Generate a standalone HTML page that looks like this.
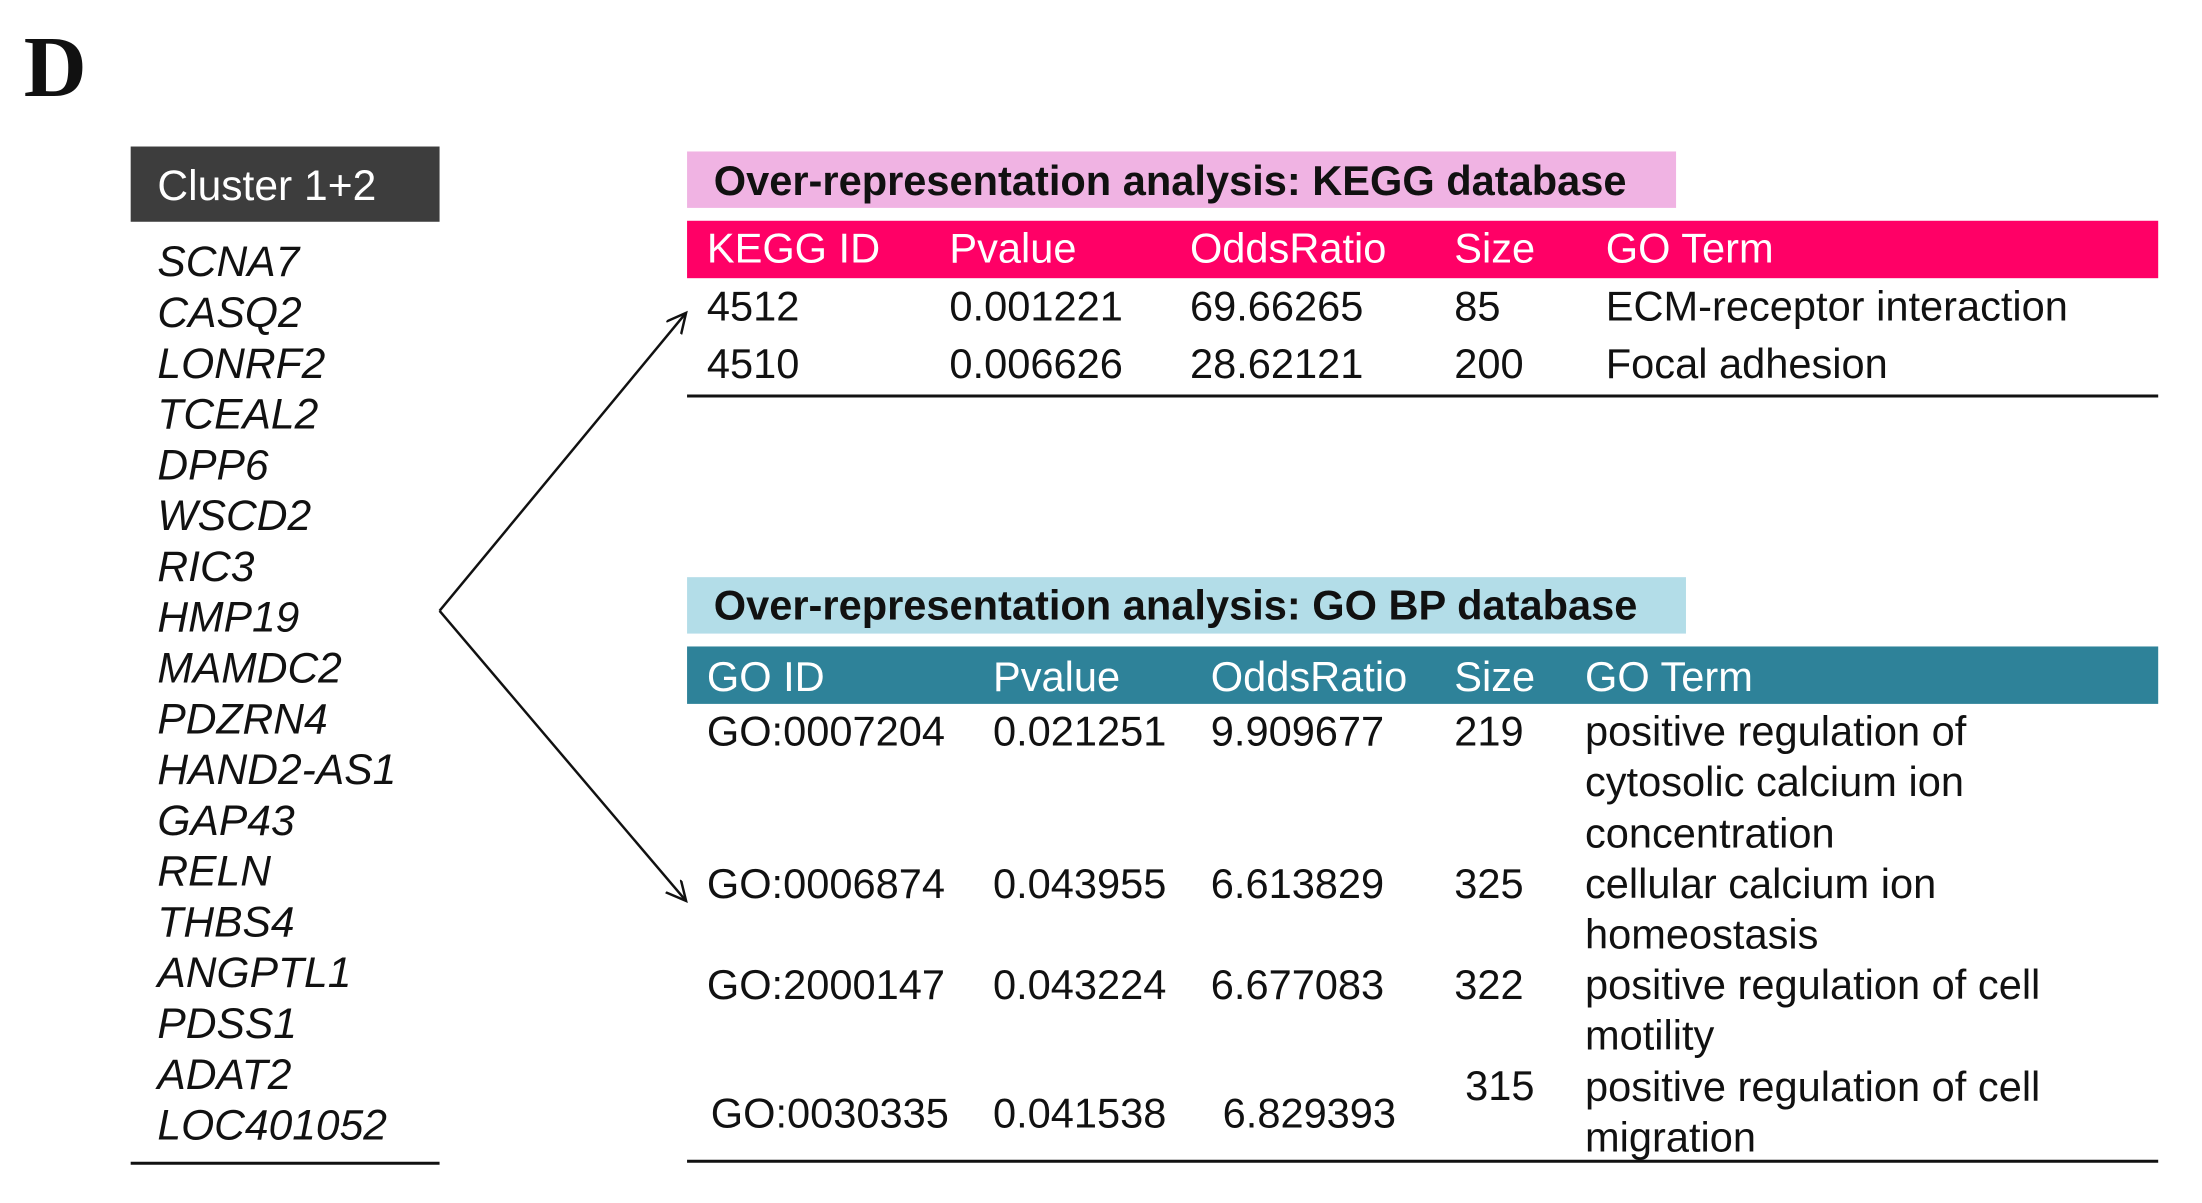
<!DOCTYPE html>
<html><head><meta charset="utf-8"><style>
html,body{margin:0;padding:0;background:#fff}
svg{display:block}
text{font-family:"Liberation Sans",Arial,sans-serif;font-size:42px;fill:#111}
.w{fill:#fff}
.b{font-weight:bold;font-size:42px}
.i{font-style:italic;font-size:43px}
</style></head><body>
<svg width="2202" height="1203" viewBox="0 0 2202 1203" xmlns="http://www.w3.org/2000/svg">
<defs><marker id="ah" markerWidth="24" markerHeight="24" refX="20" refY="10" orient="auto" markerUnits="userSpaceOnUse"><path d="M0,0 L20,10 L0,20" fill="none" stroke="#111" stroke-width="2.5"/></marker></defs>
<g transform="scale(0.99)">
<text x="24" y="97" style="font-family:'Liberation Serif',serif;font-weight:bold;font-size:88px">D</text>

<g>
<rect x="132" y="148" width="312" height="76" fill="#3d3d3d"/>
<text class="w" x="159" y="202" style="font-size:43px">Cluster 1+2</text>
<g id="genes"></g>
<line x1="132" y1="1175" x2="444" y2="1175" stroke="#111" stroke-width="3"/>
</g>

<line x1="444" y1="617" x2="693" y2="316" stroke="#111" stroke-width="2.5" marker-end="url(#ah)"/>
<line x1="444" y1="617" x2="693" y2="910" stroke="#111" stroke-width="2.5" marker-end="url(#ah)"/>

<g>
<rect x="694" y="153" width="999" height="57" fill="#f0b3e3"/>
<text class="b" x="721" y="197">Over-representation analysis: KEGG database</text>
<rect x="694" y="223" width="1486" height="58" fill="#ff0066"/>
<text class="w" x="714" y="265">KEGG ID</text><text class="w" x="959" y="265">Pvalue</text><text class="w" x="1202" y="265">OddsRatio</text><text class="w" x="1469" y="265">Size</text><text class="w" x="1622" y="265">GO Term</text>
<text x="714" y="324">4512</text><text x="959" y="324">0.001221</text><text x="1202" y="324">69.66265</text><text x="1469" y="324">85</text><text x="1622" y="324">ECM-receptor interaction</text>
<text x="714" y="382">4510</text><text x="959" y="382">0.006626</text><text x="1202" y="382">28.62121</text><text x="1469" y="382">200</text><text x="1622" y="382">Focal adhesion</text>
<line x1="694" y1="400" x2="2180" y2="400" stroke="#111" stroke-width="3"/>
</g>

<g>
<rect x="694" y="583" width="1009" height="57" fill="#b3dde8"/>
<text class="b" x="721" y="626">Over-representation analysis: GO BP database</text>
<rect x="694" y="653" width="1486" height="58" fill="#2e8299"/>
<text class="w" x="714" y="698">GO ID</text><text class="w" x="1003" y="698">Pvalue</text><text class="w" x="1223" y="698">OddsRatio</text><text class="w" x="1469" y="698">Size</text><text class="w" x="1601" y="698">GO Term</text>
<text x="714" y="753">GO:0007204</text><text x="1003" y="753">0.021251</text><text x="1223" y="753">9.909677</text><text x="1469" y="753">219</text>
<text x="1601" y="753">positive regulation of</text><text x="1601" y="804">cytosolic calcium ion</text><text x="1601" y="856">concentration</text>
<text x="714" y="907">GO:0006874</text><text x="1003" y="907">0.043955</text><text x="1223" y="907">6.613829</text><text x="1469" y="907">325</text>
<text x="1601" y="907">cellular calcium ion</text><text x="1601" y="958">homeostasis</text>
<text x="714" y="1009">GO:2000147</text><text x="1003" y="1009">0.043224</text><text x="1223" y="1009">6.677083</text><text x="1469" y="1009">322</text>
<text x="1601" y="1009">positive regulation of cell</text><text x="1601" y="1060">motility</text>
<text x="718" y="1139">GO:0030335</text><text x="1003" y="1139">0.041538</text><text x="1235" y="1139">6.829393</text><text x="1480" y="1111">315</text>
<text x="1601" y="1112">positive regulation of cell</text><text x="1601" y="1163">migration</text>
<line x1="694" y1="1173" x2="2180" y2="1173" stroke="#111" stroke-width="3"/>
</g>
</g>
</svg>
<script>
const genes=["SCNA7","CASQ2","LONRF2","TCEAL2","DPP6","WSCD2","RIC3","HMP19","MAMDC2","PDZRN4","HAND2-AS1","GAP43","RELN","THBS4","ANGPTL1","PDSS1","ADAT2","LOC401052"];
const g=document.getElementById('genes');
genes.forEach((n,i)=>{
 const t=document.createElementNS('http://www.w3.org/2000/svg','text');
 t.setAttribute('x',159);t.setAttribute('y',279+i*51.3);t.setAttribute('class','i');
 
 
 t.textContent=n;g.appendChild(t);
});
</script>
</body></html>
